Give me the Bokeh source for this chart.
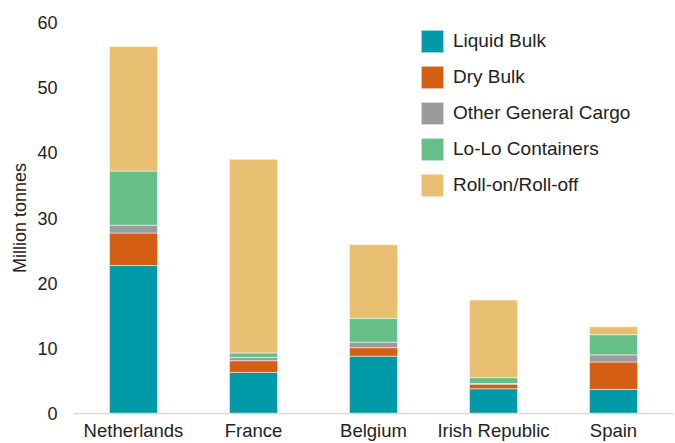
from bokeh.plotting import figure
from bokeh.models import Range1d, FactorRange, FixedTicker
from bokeh.embed import file_html
from bokeh.resources import INLINE

categories = ["Netherlands", "France", "Belgium", "Irish Republic", "Spain"]
liquid_bulk = [22.7, 6.3, 8.8, 3.8, 3.7]
dry_bulk = [5.0, 1.8, 1.3, 0.7, 4.2]
other_general = [1.2, 0.5, 0.85, 0.1, 1.1]
lolo_containers = [8.3, 0.7, 3.65, 0.9, 3.1]
roro = [19.1, 29.7, 11.3, 11.9, 1.2]
y_ticks = [0, 10, 20, 30, 40, 50, 60]

series = ["Liquid Bulk", "Dry Bulk", "Other General Cargo", "Lo-Lo Containers", "Roll-on/Roll-off"]
colors = ["#0099A8", "#D55E15", "#9B9B9F", "#66BF88", "#E8BE71"]

data = {
    "cat": categories,
    "Liquid Bulk": liquid_bulk,
    "Dry Bulk": dry_bulk,
    "Other General Cargo": other_general,
    "Lo-Lo Containers": lolo_containers,
    "Roll-on/Roll-off": roro,
}

FONT = "Liberation Sans"
TXT = "#222222"

p = figure(
    x_range=FactorRange(*categories, range_padding=0),
    y_range=Range1d(0, 60),
    width=675, height=443,
    output_backend="svg", toolbar_location=None,
    min_border_left=73, min_border_right=2, min_border_top=22, min_border_bottom=30,
)

p.vbar_stack(series, x="cat", width=0.4, color=colors, source=data,
             legend_label=series, line_color="white", line_width=0.5)

p.outline_line_color = None
p.xgrid.grid_line_color = None
p.ygrid.grid_line_color = None

p.yaxis.ticker = FixedTicker(ticks=y_ticks)
p.yaxis.axis_line_color = None
p.yaxis.major_tick_line_color = None
p.yaxis.minor_tick_line_color = None
p.yaxis.major_tick_out = 0
p.yaxis.major_tick_in = 0
p.yaxis.major_label_standoff = 16
p.yaxis.major_label_text_font = FONT
p.yaxis.major_label_text_font_size = "18px"
p.yaxis.major_label_text_color = TXT
p.yaxis.axis_label = "Million tonnes"
p.yaxis.axis_label_text_font = FONT
p.yaxis.axis_label_text_font_size = "18px"
p.yaxis.axis_label_text_font_style = "normal"
p.yaxis.axis_label_text_color = TXT
p.yaxis.axis_label_standoff = 4

p.xaxis.axis_line_color = "#d9d9d9"
p.xaxis.axis_line_width = 1.5
p.xaxis.major_tick_line_color = None
p.xaxis.minor_tick_line_color = None
p.xaxis.major_tick_out = 0
p.xaxis.major_tick_in = 0
p.xaxis.major_label_standoff = 6
p.xaxis.major_label_text_font = FONT
p.xaxis.major_label_text_font_size = "18.5px"
p.xaxis.major_label_text_color = TXT

lg = p.legend[0]
lg.location = (345, 214)
lg.padding = 0
lg.margin = 0
lg.spacing = 8
lg.glyph_width = 28
lg.glyph_height = 28
lg.label_standoff = 7
lg.label_text_font = FONT
lg.label_text_font_size = "19px"
lg.label_text_color = TXT
lg.background_fill_alpha = 0
lg.border_line_color = None

open("out.html", "w").write(file_html(p, INLINE))
